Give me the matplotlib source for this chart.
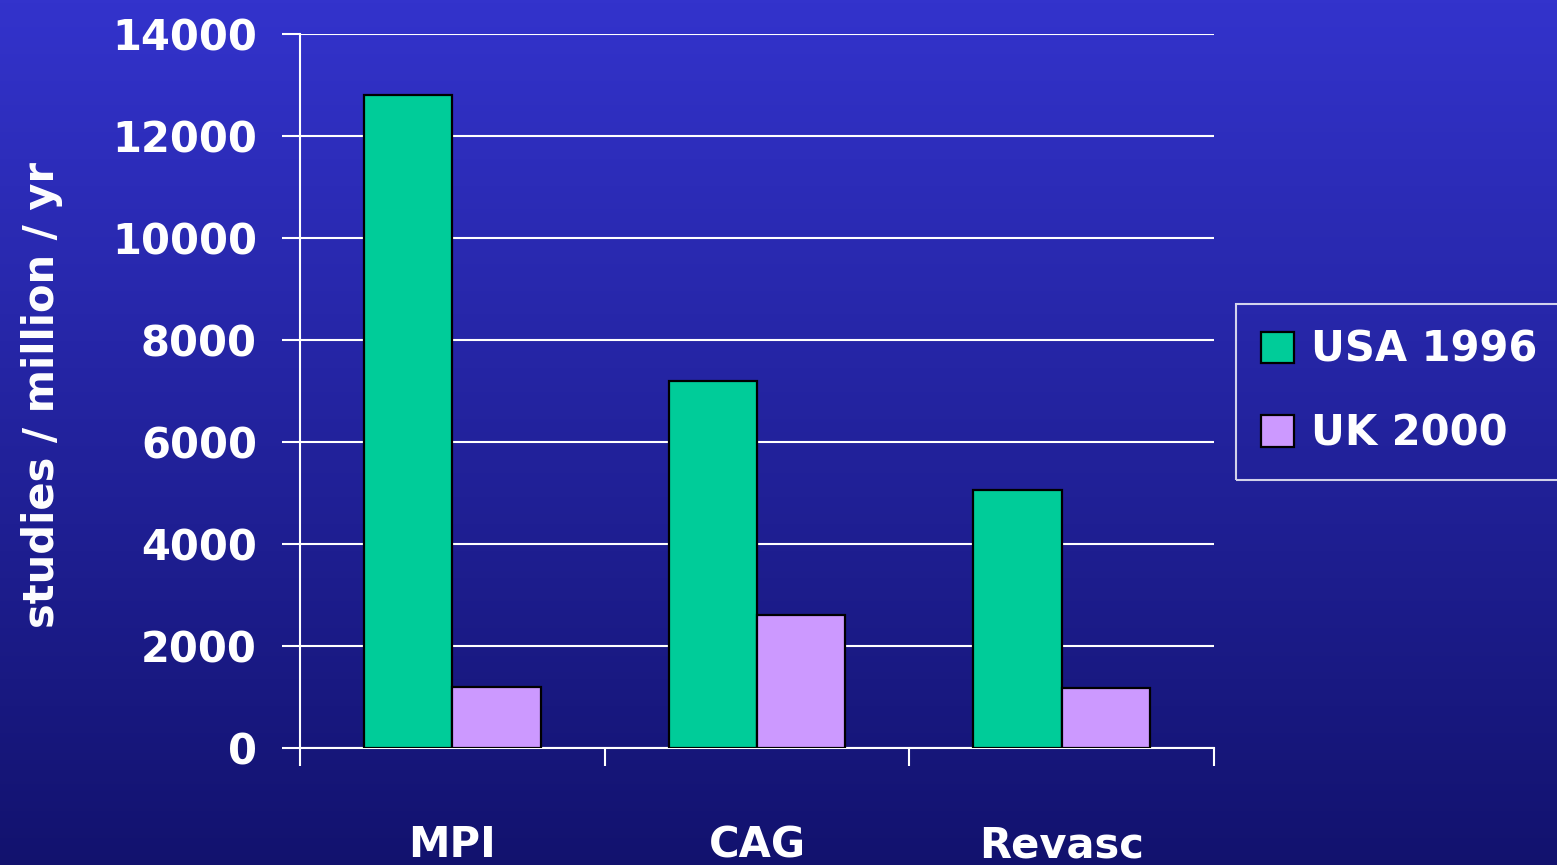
import matplotlib.pyplot as plt
import numpy as np

categories = ["MPI", "CAG", "Revasc"]
usa_1996 = [12800, 7200, 5050]
uk_2000 = [1200, 2600, 1170]
series_labels = ["USA 1996", "UK 2000"]
y_ticks = [0, 2000, 4000, 6000, 8000, 10000, 12000, 14000]

GREEN = "#00CC99"
LILAC = "#CC99FF"
FONT = "DejaVu Sans"

plt.rcParams["font.family"] = FONT
plt.rcParams["font.weight"] = "bold"

fig = plt.figure(figsize=(15.57, 8.65), dpi=100)

# gradient background
bg = fig.add_axes([0, 0, 1, 1], zorder=-10)
top = np.array([0x33, 0x33, 0xCC]) / 255
bottom = np.array([0x12, 0x12, 0x6E]) / 255
t = np.linspace(0, 1, 256)[:, None]
grad = (top * (1 - t) + bottom * t)[:, None, :]
bg.imshow(grad, aspect="auto", extent=[0, 1, 0, 1])
bg.axis("off")

ax = fig.add_axes([300 / 1557, 1 - 748 / 865, 914 / 1557, 714 / 865])
ax.patch.set_alpha(0)

x = np.arange(len(categories))
w = 0.29
ax.bar(x - w / 2, usa_1996, w, color=GREEN, edgecolor="black", linewidth=1.6,
       label=series_labels[0], zorder=3)
ax.bar(x + w / 2, uk_2000, w, color=LILAC, edgecolor="black", linewidth=1.6,
       label=series_labels[1], zorder=3)

ax.set_xlim(-0.5, len(categories) - 0.5)
ax.set_ylim(0, 14000)
ax.set_yticks(y_ticks)
ax.set_yticklabels([str(v) for v in y_ticks])
ax.set_xticks(x)
ax.set_xticklabels(categories)
ax.set_xticks(np.arange(len(categories) + 1) - 0.5, minor=True)

ax.grid(axis="y", color="white", linewidth=1.5, zorder=1)
ax.set_axisbelow(True)
for s in ["top", "right"]:
    ax.spines[s].set_visible(False)
for s in ["left", "bottom"]:
    ax.spines[s].set_color("white")
    ax.spines[s].set_linewidth(1.5)

ax.tick_params(axis="y", colors="white", length=13, width=1.5, pad=18,
               labelsize=30)
ax.tick_params(axis="x", which="major", length=0, pad=55, labelcolor="white",
               labelsize=30)
ax.tick_params(axis="x", which="minor", length=13, width=1.5, color="white")
for lbl in ax.get_xticklabels() + ax.get_yticklabels():
    lbl.set_fontweight("bold")

fig.text(42 / 1557, 1 - 395 / 865, "studies / million / yr", rotation=90,
         ha="center", va="center", color="white", fontsize=30, fontweight="bold")

leg = ax.legend(loc="upper left", bbox_to_anchor=(1236 / 1557, 1 - 304 / 865),
                bbox_transform=fig.transFigure, frameon=True, fancybox=False,
                fontsize=30, handlelength=0.8, handleheight=0.8,
                handletextpad=0.4, labelspacing=1.0, borderpad=0.6,
                borderaxespad=0)
leg.get_frame().set_facecolor("none")
leg.get_frame().set_edgecolor("white")
leg.get_frame().set_linewidth(1.5)
for txt in leg.get_texts():
    txt.set_color("white")
    txt.set_fontweight("bold")

fig.savefig("out.png", dpi=100)
